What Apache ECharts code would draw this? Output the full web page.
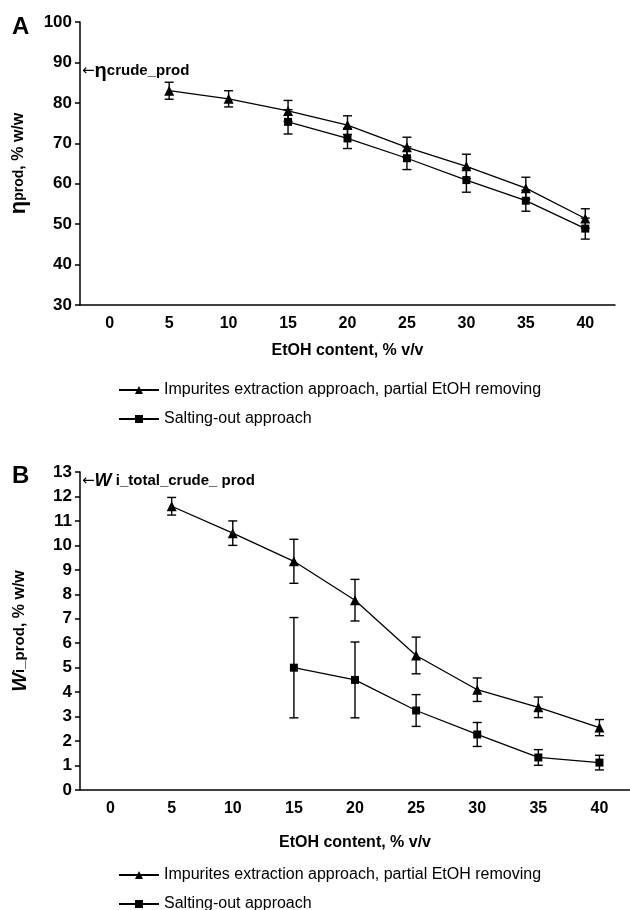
<!DOCTYPE html>
<html>
<head>
<meta charset="utf-8">
<script src="https://cdn.jsdelivr.net/npm/echarts@6/dist/echarts.min.js"></script>
<style>
  html, body { margin: 0; padding: 0; background: #fff; }
  #main { width: 630px; height: 910px; }
</style>
</head>
<body>
<div id="main"></div>
<script>
var categories = ['0', '5', '10', '15', '20', '25', '30', '35', '40'];

// panel A: product yield, % w/w
var topTriMean = [null, 83, 81, 78, 74.5, 69, 64.3, 58.9, 51.4];
var topTriErr  = [null, 2.1, 2, 2.6, 2.3, 2.5, 3, 2.7, 2.4];
var topSqMean  = [null, null, null, 75.3, 71.2, 66.3, 60.9, 55.8, 48.9];
var topSqErr   = [null, null, null, 3, 2.5, 2.8, 3, 2.6, 2.6];

// panel B: impurities content, % w/w
var botTriMean = [null, 11.6, 10.5, 9.35, 7.76, 5.5, 4.1, 3.38, 2.55];
var botTriErr  = [null, 0.36, 0.5, 0.9, 0.85, 0.75, 0.48, 0.42, 0.33];
var botSqMean  = [null, null, null, 5.0, 4.5, 3.25, 2.27, 1.33, 1.12];
var botSqErr   = [null, null, null, 2.05, 1.55, 0.65, 0.49, 0.32, 0.3];

var seriesNames = ['Impurites extraction approach, partial EtOH removing', 'Salting-out approach'];

var FONT = 'Liberation Sans, Arial, sans-serif';

function errData(mean, err) {
    var out = [];
    for (var i = 0; i < mean.length; i++) {
        if (mean[i] != null) out.push([i, mean[i] - err[i], mean[i] + err[i]]);
    }
    return out;
}

function renderErr(params, api) {
    var x = api.value(0);
    var lo = api.coord([x, api.value(1)]);
    var hi = api.coord([x, api.value(2)]);
    var w = 4.5;
    var st = { stroke: '#000', lineWidth: 1.4 };
    return {
        type: 'group',
        children: [
            { type: 'line', shape: { x1: lo[0], y1: lo[1], x2: hi[0], y2: hi[1] }, style: st },
            { type: 'line', shape: { x1: lo[0] - w, y1: lo[1], x2: lo[0] + w, y2: lo[1] }, style: st },
            { type: 'line', shape: { x1: hi[0] - w, y1: hi[1], x2: hi[0] + w, y2: hi[1] }, style: st }
        ]
    };
}

function xAxis(idx, gap) {
    return {
        type: 'category',
        gridIndex: idx,
        data: categories,
        name: 'EtOH content, % v/v',
        nameLocation: 'middle',
        nameGap: gap,
        nameTextStyle: { fontFamily: FONT, fontWeight: 'bold', fontSize: 16, color: '#000' },
        axisLine: { lineStyle: { color: '#000', width: 1.5 } },
        axisTick: { length: 5, interval: 0, lineStyle: { color: '#000', width: 1.5 } },
        axisLabel: { fontFamily: FONT, fontWeight: 'bold', fontSize: 16, color: '#000', margin: 11, interval: 0 },
        splitLine: { show: false }
    };
}

function yAxis(idx, min, max, step, name, rich) {
    return {
        type: 'value',
        gridIndex: idx,
        min: min,
        max: max,
        interval: step,
        name: name,
        nameLocation: 'middle',
        nameGap: 50,
        nameRotate: 90,
        nameTextStyle: { fontFamily: FONT, fontWeight: 'bold', fontSize: 16, color: '#000', rich: rich },
        axisLine: { show: true, lineStyle: { color: '#000', width: 1.5 } },
        axisTick: { show: true, length: 5, lineStyle: { color: '#000', width: 1.5 } },
        axisLabel: { fontFamily: FONT, fontWeight: 'bold', fontSize: 17, color: '#000', margin: 8 },
        splitLine: { show: false }
    };
}

function lineSeries(idx, name, data, symbol, size) {
    return {
        type: 'line',
        name: name,
        xAxisIndex: idx,
        yAxisIndex: idx,
        data: data,
        symbol: symbol,
        symbolSize: size,
        z: 3,
        itemStyle: { color: '#000' },
        lineStyle: { color: '#000', width: 1.3 }
    };
}

function errSeries(idx, mean, err) {
    return {
        type: 'custom',
        xAxisIndex: idx,
        yAxisIndex: idx,
        data: errData(mean, err),
        renderItem: renderErr,
        z: 2,
        silent: true
    };
}

function legend(top, gap) {
    return {
        data: seriesNames,
        orient: 'vertical',
        left: 113,
        top: top,
        height: 80,
        itemWidth: 40,
        itemHeight: 10,
        itemGap: gap,
        textStyle: { fontFamily: FONT, fontSize: 16, color: '#000' },
        selectedMode: false
    };
}

var myChart = echarts.init(document.getElementById('main'));

var option = {
    animation: false,
    backgroundColor: '#fff',
    grid: [
        { left: 80, top: 22, width: 535, height: 283 },
        { left: 80, top: 472, width: 550, height: 318 }
    ],
    legend: [legend(377, 13), legend(862, 13)],
    xAxis: [xAxis(0, 38), xAxis(1, 45)],
    yAxis: [
        yAxis(0, 30, 100, 10, '{eta|η}{sub|prod}, % w/w', {
            eta: { fontFamily: FONT, fontWeight: 'bold', fontSize: 22, color: '#000' },
            sub: { fontFamily: FONT, fontWeight: 'bold', fontSize: 14, color: '#000' }
        }),
        yAxis(1, 0, 13, 1, '{w|W}{sub|i_prod}, % w/w', {
            w: { fontFamily: FONT, fontWeight: 'bold', fontStyle: 'italic', fontSize: 20, color: '#000' },
            sub: { fontFamily: FONT, fontWeight: 'bold', fontSize: 15, color: '#000' }
        })
    ],
    graphic: [
        { type: 'text', left: 12, top: 15, style: { text: 'A', font: 'bold 24px ' + FONT, fill: '#000' } },
        { type: 'text', left: 12, top: 464, style: { text: 'B', font: 'bold 24px ' + FONT, fill: '#000' } },
        {
            type: 'text', left: 82, top: 61,
            style: {
                text: '{a|←}{e|η}{s|crude_prod}',
                rich: {
                    a: { fontFamily: 'DejaVu Sans', fontSize: 15, fill: '#000' },
                    e: { fontFamily: FONT, fontWeight: 'bold', fontSize: 20, fill: '#000' },
                    s: { fontFamily: FONT, fontWeight: 'bold', fontSize: 15, fill: '#000' }
                }
            }
        },
        {
            type: 'text', left: 82, top: 472,
            style: {
                text: '{a|←}{w|W}{s| i_total_crude_ prod}',
                rich: {
                    a: { fontFamily: 'DejaVu Sans', fontSize: 15, fill: '#000' },
                    w: { fontFamily: FONT, fontWeight: 'bold', fontStyle: 'italic', fontSize: 18, fill: '#000' },
                    s: { fontFamily: FONT, fontWeight: 'bold', fontSize: 15, fill: '#000' }
                }
            }
        }
    ],
    series: [
        errSeries(0, topTriMean, topTriErr),
        errSeries(0, topSqMean, topSqErr),
        lineSeries(0, seriesNames[0], topTriMean, 'triangle', 10),
        lineSeries(0, seriesNames[1], topSqMean, 'rect', 8),
        errSeries(1, botTriMean, botTriErr),
        errSeries(1, botSqMean, botSqErr),
        lineSeries(1, seriesNames[0], botTriMean, 'triangle', 10),
        lineSeries(1, seriesNames[1], botSqMean, 'rect', 8)
    ]
};
myChart.setOption(option);
</script>
</body>
</html>
